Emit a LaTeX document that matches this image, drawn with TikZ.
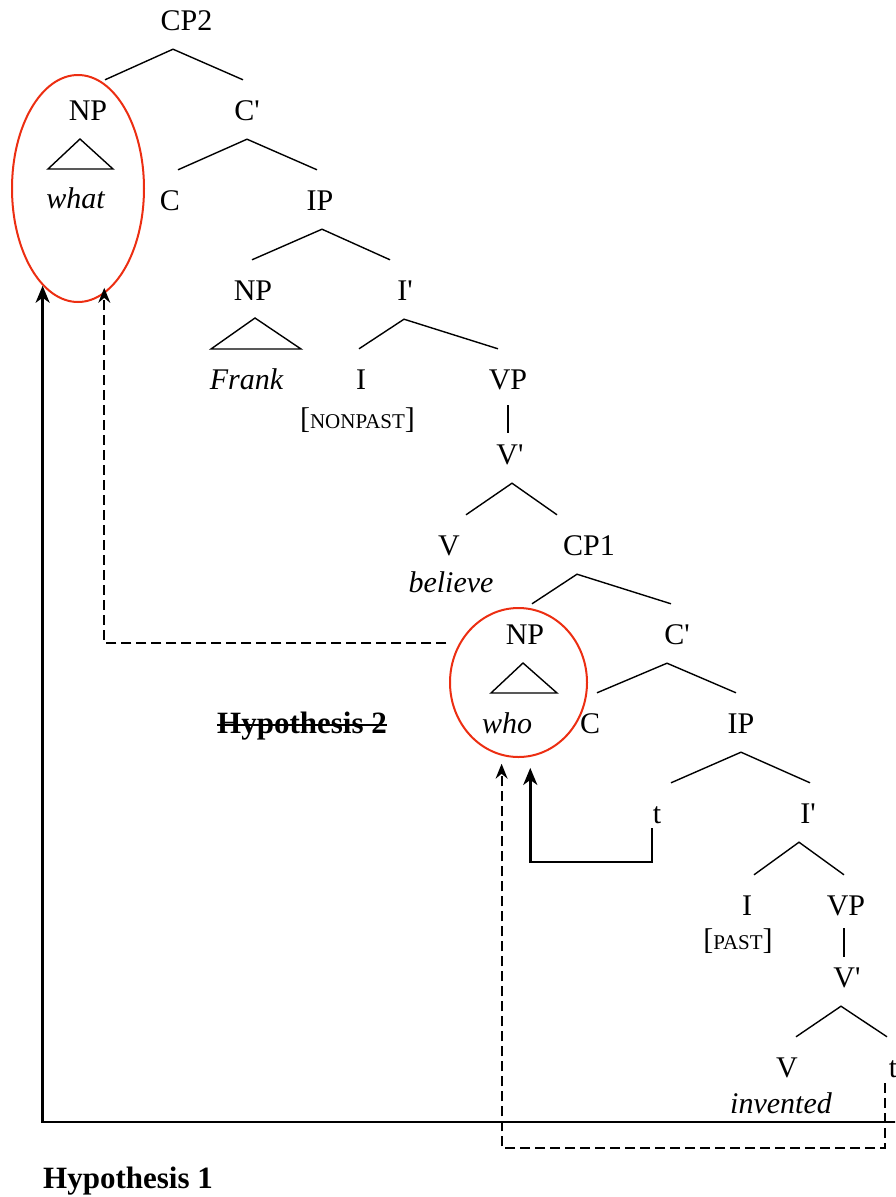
\documentclass[tikz,border=0pt]{standalone}
\usepackage{fontspec}
\setmainfont{Liberation Serif}[Ligatures=TeXOff]
\usetikzlibrary{arrows.meta,shapes.geometric}

\definecolor{ovalred}{RGB}{236,46,18}

\begin{document}
\begin{tikzpicture}[x=1pt,y=-1pt,
  lbl/.style={anchor=base, inner xsep=1pt, inner ysep=19pt, text height=21pt, text depth=0pt,
              font=\fontsize{30}{36}\selectfont},
  word/.style={anchor=base, inner sep=1pt, font=\fontsize{30}{36}\selectfont\itshape},
  feat/.style={anchor=base, inner sep=1pt, font=\fontsize{30}{36}\selectfont},
  hyp/.style={anchor=base west, inner sep=0pt, font=\fontsize{31}{36}\selectfont\bfseries},
  branch/.style={line width=1.4pt},
  oval/.style={draw=ovalred, line width=2pt, ellipse, inner sep=0pt},
  solidarrow/.style={line width=2.6pt, -{Stealth[length=17pt,width=14pt,inset=5pt]}},
  dasharrow/.style={line width=1.8pt, dash pattern=on 10pt off 5pt,
                    -{Stealth[length=15pt,width=12pt,inset=5pt]}},
]
\clip (0,0) rectangle (895,1197);
\useasboundingbox (0,0) rectangle (895,1197);

% matrix clause
\node[lbl] (cp2)   at (186.5,30) {CP2};
\node[lbl] (npA)   at (88,120)   {NP};
\node[lbl] (cbarA) at (247,120)  {C'};
\node[lbl] (cA)    at (170,210)  {C};
\node[lbl] (ipA)   at (320,210)  {IP};
\node[lbl] (npF)   at (253,300)  {NP};
\node[lbl] (ibarA) at (405,300)  {I'};
\node[lbl] (iA)    at (361,389)  {I};
\node[lbl] (vpA)   at (508,389)  {VP};
\node[lbl] (vbarA) at (510,464)  {V'};
\node[lbl] (vA)    at (449,555)  {V};
\node[lbl] (cp1)   at (589,555)  {CP1};

% embedded clause
\node[lbl] (npB)   at (525,644)  {NP};
\node[lbl] (cbarB) at (677,644)  {C'};
\node[lbl] (cB)    at (590,733)  {C};
\node[lbl] (ipB)   at (741,733)  {IP};
\node[lbl] (tA)    at (657,823)  {t};
\node[lbl] (ibarB) at (808,823)  {I'};
\node[lbl] (iB)    at (747,915)  {I};
\node[lbl] (vpB)   at (846,915)  {VP};
\node[lbl] (vbarB) at (847,987)  {V'};
\node[lbl] (vB)    at (787,1077) {V};
\node[lbl] (tB)    at (893,1077) {t};

% lexical material
\node[word] (what)     at (75.5,208) {what};
\node[word] (frank)    at (246.5,389) {Frank};
\node[word] (believe)  at (451,592)  {believe};
\node[word] (who)      at (507,733)  {who};
\node[word] (invented) at (781,1113) {invented};
\node[feat] (nonpast)  at (357.5,428) {[{\fontsize{21}{24}\selectfont NONPAST}]};
\node[feat] (past)     at (738,949)  {[{\fontsize{21}{24}\selectfont PAST}]};

% branches
\draw[branch] ([xshift=17pt]npA.north) -- ([xshift=-13.5pt]cp2.south) -- ([xshift=-4pt]cbarA.north);
\draw[branch] ([xshift=8pt]cA.north) -- (cbarA.south) -- ([xshift=-3pt]ipA.north);
\draw[branch] ([xshift=-1pt]npF.north) -- ([xshift=2pt]ipA.south) -- ([xshift=-15pt]ibarA.north);
\draw[branch] ([xshift=-2pt]iA.north) -- ([xshift=-1pt]ibarA.south) -- ([xshift=-10pt]vpA.north);
\draw[branch] ([shift={(0,-3)}]vpA.south) -- ([shift={(-2,9)}]vbarA.north);
\draw[branch] ([xshift=17pt]vA.north) -- ([xshift=2pt]vbarA.south) -- ([xshift=-32pt]cp1.north);
\draw[branch] ([xshift=7pt]npB.north) -- ([xshift=-12pt]cp1.south) -- ([xshift=-6pt]cbarB.north);
\draw[branch] ([xshift=7pt]cB.north) -- ([xshift=-10pt]cbarB.south) -- ([xshift=-5pt]ipB.north);
\draw[branch] ([xshift=14pt]tA.north) -- (ipB.south) -- ([xshift=2pt]ibarB.north);
\draw[branch] ([xshift=7pt]iB.north) -- ([xshift=-9pt]ibarB.south) -- ([xshift=-2pt]vpB.north);
\draw[branch] ([shift={(-2,-6)}]vpB.south) -- ([shift={(-3,10)}]vbarB.north);
\draw[branch] ([xshift=9pt]vB.north) -- ([xshift=-6pt]vbarB.south) -- ([xshift=-6pt]tB.north);

% phrase triangles
\draw[branch] ([shift={(-8,19)}]npA.base) -- ([shift={(-40,49)}]npA.base) -- ([shift={(25,49)}]npA.base) -- cycle;
\draw[branch] ([shift={(2,18)}]npF.base) -- ([shift={(-42,49)}]npF.base) -- ([shift={(48,49)}]npF.base) -- cycle;
\draw[branch] ([shift={(-2,19)}]npB.base) -- ([shift={(-34,49)}]npB.base) -- ([shift={(32,49)}]npB.base) -- cycle;

% landing sites
\node[oval, minimum width=132pt, minimum height=227pt] (ellA) at (78,188.5) {};
\node[oval, minimum width=137pt, minimum height=149pt] (ellB) at (518.5,682.5) {};

% movement paths
\coordinate (h1end) at (910,1122);
\draw[solidarrow] (h1end) -| (ellA.250);
\draw[dasharrow] ([xshift=-13pt]ellB.146) -| ([yshift=6pt]ellA.284);
\draw[dasharrow] ([shift={(-8,6)}]tB.base) -- ++(0,65) -| ([yshift=-8pt]ellB.257);
\draw[solidarrow] ([shift={(-5,5)}]tA.base) -- ++(0,34) -| ([yshift=-11pt]ellB.279);

% hypothesis labels
\node[hyp] (hypTwo) at (217,733) {Hypothesis 2};
\draw[line width=2.2pt] ([yshift=8pt]hypTwo.base west) -- ([yshift=8pt]hypTwo.base east);
\node[hyp] (hypOne) at (43,1188) {Hypothesis 1};
\end{tikzpicture}
\end{document}
